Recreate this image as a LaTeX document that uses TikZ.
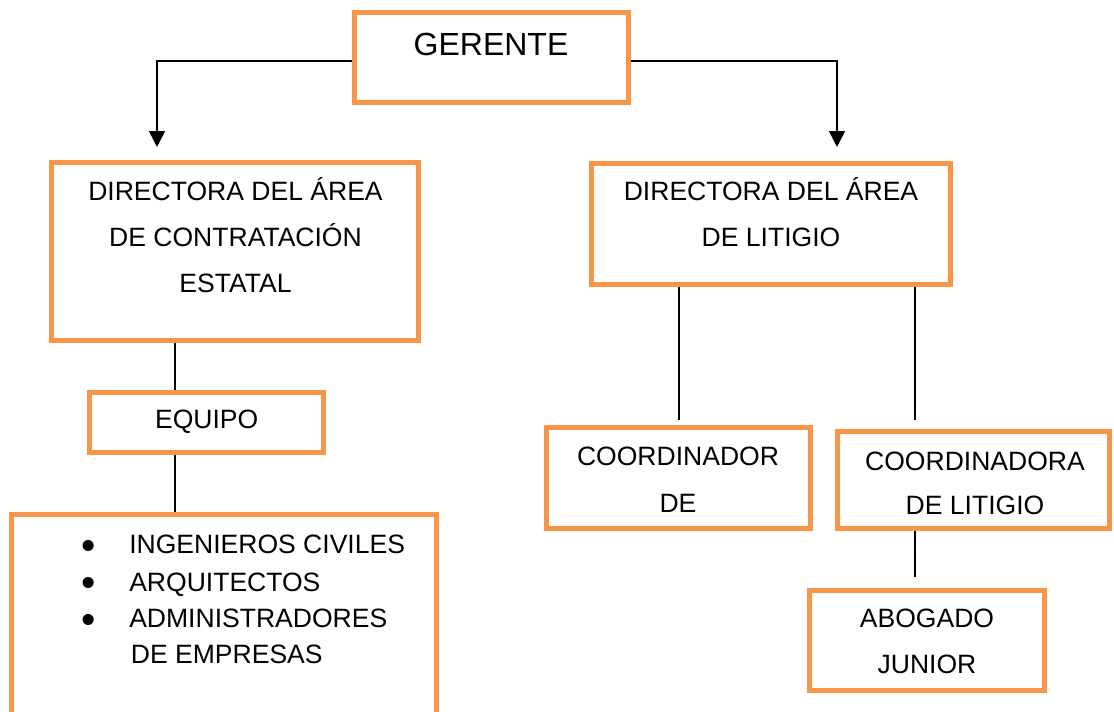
\documentclass[tikz,border=0pt]{standalone}
\usepackage{fontspec}
\setmainfont{Liberation Sans}
\usetikzlibrary{arrows.meta}
\definecolor{boxorange}{RGB}{247,150,70}
\tikzset{
  orgbox/.style={draw=boxorange, line width=3.75pt, fill=white, inner sep=0pt, rectangle},
  lbl/.style={anchor=base, inner sep=0pt, font=\fontsize{19.9}{24}\selectfont},
  lblleft/.style={anchor=base west, inner sep=0pt, font=\fontsize{19.9}{24}\selectfont},
  bul/.style={anchor=base, inner sep=0pt, font=\fontsize{30.6}{34}\selectfont},
  biglbl/.style={anchor=base, inner sep=0pt, font=\fontsize{24}{28}\selectfont},
  conn/.style={draw=black, line width=1.1pt},
  arr/.style={conn, -{Triangle[width=12pt,length=12pt]}}
}
\begin{document}
\begin{tikzpicture}[x=0.75pt,y=-0.75pt]
\useasboundingbox (0,0) rectangle (1114,711);
\clip (0,0) rectangle (1114,711);
\fill[white] (0,0) rectangle (1114,711);

% boxes
\node[orgbox, minimum width=205.5pt, minimum height=67.5pt] (ger) at (491.5,57.5) {};
\node[orgbox, minimum width=275.25pt, minimum height=133.5pt] (dirL) at (235,251.5) {};
\node[orgbox, minimum width=269.25pt, minimum height=90.75pt] (dirR) at (771,224) {};
\node[orgbox, minimum width=175.5pt, minimum height=45pt] (equipo) at (206.5,422.5) {};
\node[orgbox, minimum width=318.75pt, minimum height=195pt] (lista) at (224,644.5) {};
\node[orgbox, minimum width=198pt, minimum height=75.75pt] (coordL) at (678.5,478) {};
\node[orgbox, minimum width=204pt, minimum height=72.75pt] (coordR) at (973.5,480) {};
\node[orgbox, minimum width=176.25pt, minimum height=75pt] (abog) at (927,640.5) {};

% texts
\node[biglbl] (tger) at (491,55) {GERENTE};
\node[lbl] (tdl1) at (235.5,200.2) {DIRECTORA DEL ÁREA};
\node[lbl] (tdl2) at (235.5,246.2) {DE CONTRATACIÓN};
\node[lbl] (tdl3) at (235.5,292.2) {ESTATAL};
\node[lbl] (tdr1) at (771,200.5) {DIRECTORA DEL ÁREA};
\node[lbl] (tdr2) at (771,246.5) {DE LITIGIO};
\node[lbl] (teq) at (206.7,428.8) {EQUIPO};
\node[lbl] (tcl1) at (678,465.2) {COORDINADOR};
\node[lbl] (tcl2) at (678,512.5) {DE};
\node[lbl] (tcr1) at (975,470) {COORDINADORA};
\node[lbl] (tcr2) at (975,514.5) {DE LITIGIO};
\node[lbl] (tab1) at (927,627) {ABOGADO};
\node[lbl] (tab2) at (927,673.5) {JUNIOR};

% list
\node[bul] (b1) at (88.3,559.2) {•};
\node[bul] (b2) at (88.3,596.2) {•};
\node[bul] (b3) at (88.3,633.5) {•};
\node[lblleft] (l1) at (129,553.5) {INGENIEROS CIVILES};
\node[lblleft] (l2) at (129,591.2) {ARQUITECTOS};
\node[lblleft] (l3) at (129,627.8) {ADMINISTRADORES};
\node[lblleft] (l4) at (130.7,663.8) {DE EMPRESAS};

% helper coordinates
\coordinate (tipL) at (157,147);
\coordinate (tipR) at (837,147);
\coordinate (colL) at (175,0);
\coordinate (colA) at (679,0);
\coordinate (colB) at (915,0);

% connectors
\draw[arr] ([yshift=-2.6pt]ger.west) -| (tipL);
\draw[arr] ([yshift=-2.6pt]ger.east) -| (tipR);
\draw[conn] (dirL.south -| colL) -- (equipo.north -| colL);
\draw[conn] (equipo.south -| colL) -- (lista.north -| colL);
\draw[conn, shorten >=3.4pt] (dirR.south -| colA) -- (coordL.north -| colA);
\draw[conn, shorten >=6.4pt] (dirR.south -| colB) -- (coordR.north -| colB);
\draw[conn, shorten >=8.6pt] (coordR.south -| colB) -- (abog.north -| colB);
\end{tikzpicture}
\end{document}
